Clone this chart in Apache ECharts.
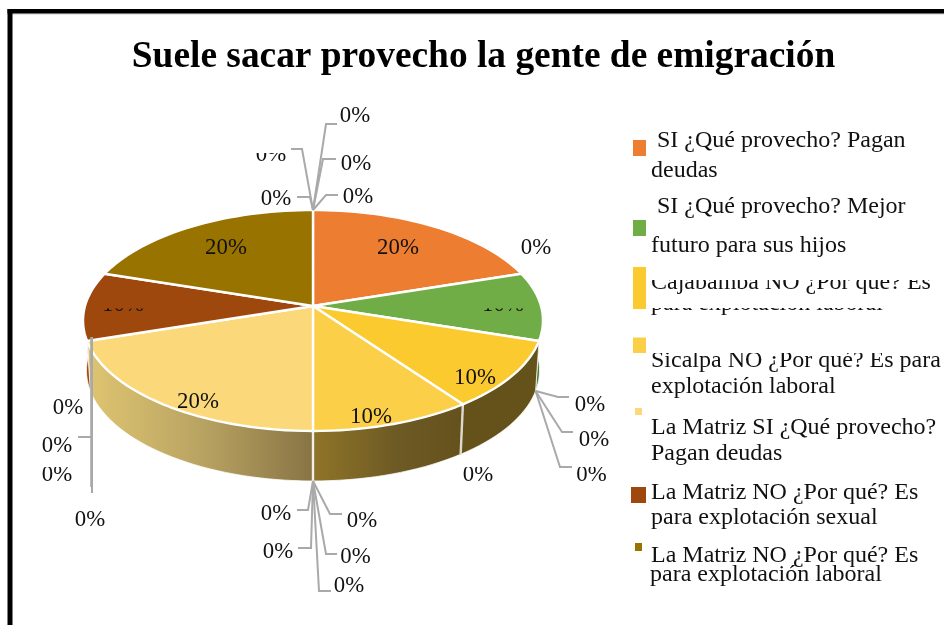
<!DOCTYPE html>
<html><head><meta charset="utf-8">
<script src="https://cdn.jsdelivr.net/npm/echarts@6/dist/echarts.min.js"></script>
<style>html,body{margin:0;padding:0;background:#fff}#c{width:944px;height:625px}</style>
</head><body><div id="c"></div>
<script>
const titleText = 'Suele sacar provecho la gente de emigración';
const categories = [
  'SI ¿Qué provecho? Pagan deudas',
  'SI ¿Qué provecho? Mejor futuro para sus hijos',
  'Cajabamba NO ¿Por qué? Es para explotación laboral',
  'Sicalpa NO ¿Por qué? Es para explotación laboral',
  'La Matriz SI ¿Qué provecho? Pagan deudas',
  'La Matriz NO ¿Por qué? Es para explotación sexual',
  'La Matriz NO ¿Por qué? Es para explotación laboral'
];
const shares = [20, 10, 10, 10, 20, 10, 20];
const zeroLabel = '0%';

// ---- styling / layout (kept apart from the data) ----
const topColors = ['#ED7D31', '#70AD47', '#FBCA2E', '#FBCF48', '#FBD97A', '#9E480E', '#997300'];
const FONT = '"Liberation Serif"';
const labelFont = '22.8px ' + FONT;
const legendFont = '24px ' + FONT;
const GREY = '#A9A9A9';
const P = {cx: 313, cy: 306, A: 228, B: 108.6, k: 0.131, wallCy: 356, wallScale: 0.985};

function project(deg, wall) {
  const r = deg * Math.PI / 180, u = Math.sin(r), v = Math.cos(r), d = 1 + P.k * v;
  const s = wall ? P.wallScale : 1;
  return [P.cx + s * P.A * u / d, (wall ? P.wallCy : P.cy) - P.B * v / d];
}
function arc(a0, a1, wall) {
  const n = Math.max(2, Math.ceil(Math.abs(a1 - a0) / 2)), pts = [];
  for (let i = 0; i <= n; i++) pts.push(project(a0 + (a1 - a0) * i / n, wall));
  return pts;
}
function sliceAngles(i) {
  const total = shares.reduce((a, b) => a + b, 0);
  let s = 0;
  for (let j = 0; j < i; j++) s += shares[j];
  return [s / total * 360, (s + shares[i]) / total * 360];
}
// fill of the side wall of each slice (only those facing the viewer)
const wallFills = {
  1: '#4F7B33',
  2: '#65511A',
  3: {type: 'linear', global: true, x: 313, y: 0, x2: 463, y2: 0,
      colorStops: [{offset: 0, color: '#8F7528'}, {offset: .55, color: '#6E5A24'}, {offset: 1, color: '#64511C'}]},
  4: {type: 'linear', global: true, x: 90, y: 0, x2: 313, y2: 0,
      colorStops: [{offset: 0, color: '#DEC471'}, {offset: .5, color: '#B9A362'}, {offset: 1, color: '#887444'}]},
  5: '#9E4A12'
};
const wallRange = {1: [90, 108], 2: [108, 144], 3: [144, 180], 4: [180, 252], 5: [252, 270]};

function text(str, x, y, font, align, clipTop) {
  const el = {type: 'text', silent: true,
    style: {text: str, x: x, y: y, fill: '#111', font: font, align: align, verticalAlign: 'middle'}};
  if (clipTop != null) el.clipPath = {type: 'rect', shape: {x: x - 400, y: clipTop, width: 800, height: 60}};
  return el;
}

// ---- slice labels ----
const sliceLabelPos = [
  [398, 248], [503, 305.5, 308.5], [475, 378], [371, 417], [198, 402], [123, 305.5, 308.5], [226, 248]
];

// ---- zero labels: [x, y, clipTop] ----
const zeroPos = [
  [355, 116], [356, 164], [358, 197], [276, 199], [271, 155, 153], [536, 248],
  [590, 405], [594, 440], [591.5, 475, 467], [478, 475, 467],
  [362, 521], [355.5, 557], [349, 586], [276, 514], [278, 552],
  [68, 408], [57, 446], [57, 475, 467], [90, 520]
];

// ---- leader lines: anchor slice-angle on top/bottom rim, then bend points ----
const leaders = [
  {deg: 0, wall: false, pts: [[326, 124], [337, 124]]},
  {deg: 0, wall: false, pts: [[323, 159], [336, 159]]},
  {deg: 0, wall: false, pts: [[326, 195], [338, 195]]},
  {deg: 0, wall: false, pts: [[302, 149], [291, 149]]},
  {deg: 0, wall: false, pts: [[310, 197], [297, 197]]},
  {deg: 108, wall: true, pts: [[558, 397], [569, 397]]},
  {deg: 108, wall: true, pts: [[562, 432], [573, 432]]},
  {deg: 108, wall: true, pts: [[560, 467], [572, 467]]},
  {deg: 180, wall: true, pts: [[330, 514], [342, 514]]},
  {deg: 180, wall: true, pts: [[326, 554], [337, 554]]},
  {deg: 180, wall: true, pts: [[319, 591], [331, 591]]},
  {deg: 180, wall: true, pts: [[308, 510], [297, 510]]},
  {deg: 180, wall: true, pts: [[311, 548], [298, 548]]},
  {start: [92, 337], pts: [[92, 437], [78, 437]]},
  {start: [92, 337], pts: [[92, 493]]},
  {start: [91.2, 337], pts: [[91.2, 487]]}
];

// ---- legend ----
const legendLines = [
  [' SI ¿Qué provecho? Pagan', 'deudas'],
  [' SI ¿Qué provecho? Mejor', 'futuro para sus hijos'],
  ['Cajabamba NO ¿Por qué? Es', 'para explotación laboral'],
  ['Sicalpa NO ¿Por qué? Es para', 'explotación laboral'],
  ['La Matriz SI ¿Qué provecho?', 'Pagan deudas'],
  ['La Matriz NO ¿Por qué? Es', 'para explotación sexual'],
  ['La Matriz NO ¿Por qué? Es', 'para explotación laboral']
];
const legendLayout = [
  {box: [633, 140, 13, 16], lines: [[651, 140.5], [651, 170.5]]},
  {box: [633, 220, 13, 16], lines: [[651, 206.5], [651, 245.5]]},
  {box: [633, 267, 13, 42], lines: [[651, 283, 280], [651, 304, 308]]},
  {box: [633, 337.5, 13, 15.5], lines: [[651, 361, 353], [651, 386.5]]},
  {box: [635, 408, 7, 7], lines: [[651, 428], [651, 454]]},
  {box: [631, 487, 15, 16], lines: [[651, 493], [651, 518]]},
  {box: [635, 543, 7, 8], lines: [[651, 556], [650, 575]]}
];

const wallData = Object.keys(wallRange).map(i => ({name: categories[i], value: [shares[i], +i]}));
const topData = categories.map((c, i) => ({name: c, value: [shares[i], i]}));

const chart = echarts.init(document.getElementById('c'), null, {renderer: 'canvas'});
chart.setOption({
  animation: false,
  backgroundColor: '#fff',
  title: {
    text: titleText, left: 478.5, top: 34, textAlign: 'center',
    textStyle: {fontFamily: FONT, fontWeight: 'bold', fontSize: 37.4, color: '#000'}
  },
  graphic: [
    {type: 'rect', shape: {x: 7.5, y: 13.5, width: 937, height: 1}, style: {fill: '#c8c8c8'}, silent: true},
    {type: 'rect', shape: {x: 7.5, y: 9, width: 5, height: 616}, style: {fill: '#000'}, silent: true},
    {type: 'rect', shape: {x: 7.5, y: 9, width: 937, height: 4.5}, style: {fill: '#000'}, silent: true}
  ],
  series: [
    { // side walls
      type: 'custom', coordinateSystem: 'none', silent: true, data: wallData, z: 1,
      renderItem(params, api) {
        const i = api.value(1), r = wallRange[i];
        const pts = arc(r[0], r[1], false).concat(arc(r[1], r[0], true));
        const kids = [{type: 'polygon', shape: {points: pts}, style: {fill: wallFills[i], stroke: 'rgba(255,255,255,.75)', lineWidth: 1}}];
        return {type: 'group', children: kids};
      }
    },
    { // dividers on the wall
      type: 'custom', coordinateSystem: 'none', silent: true, data: [{value: [144]}, {value: [180]}], z: 2,
      renderItem(params, api) {
        const d = api.value(0);
        const a = project(d, false), b = project(d, true);
        return {type: 'line', shape: {x1: a[0], y1: a[1], x2: b[0], y2: b[1]},
          style: {stroke: d === 180 ? '#f0efe8' : '#dcdad0', lineWidth: 2.4}};
      }
    },
    { // top face
      type: 'custom', coordinateSystem: 'none', silent: true, data: topData, z: 3,
      renderItem(params, api) {
        const i = api.value(1), ang = sliceAngles(i);
        const pts = [[P.cx, P.cy]].concat(arc(ang[0], ang[1], false));
        return {type: 'polygon', shape: {points: pts},
          style: {fill: topColors[i], stroke: '#fff', lineWidth: 2.4, lineJoin: 'round'}};
      }
    },
    { // slice percentage labels
      type: 'custom', coordinateSystem: 'none', silent: true, data: topData, z: 4,
      renderItem(params, api) {
        const i = api.value(1), p = sliceLabelPos[i];
        return text(api.value(0) + '%', p[0], p[1], labelFont, 'center', p[2]);
      }
    },
    { // leader lines
      type: 'custom', coordinateSystem: 'none', silent: true, data: leaders.map((l, i) => ({value: [i]})), z: 5,
      renderItem(params, api) {
        const l = leaders[api.value(0)];
        const s = l.start || project(l.deg, l.wall);
        return {type: 'polyline', shape: {points: [s].concat(l.pts)},
          style: {stroke: GREY, lineWidth: 2, fill: null}};
      }
    },
    { // zero-share labels
      type: 'custom', coordinateSystem: 'none', silent: true, data: zeroPos.map((p, i) => ({value: [i]})), z: 6,
      renderItem(params, api) {
        const p = zeroPos[api.value(0)];
        return text(zeroLabel, p[0], p[1], labelFont, 'center', p[2]);
      }
    },
    { // legend
      type: 'custom', coordinateSystem: 'none', silent: true, data: topData, z: 7,
      renderItem(params, api) {
        const i = api.value(1), L = legendLayout[i];
        const kids = [{type: 'rect', shape: {x: L.box[0], y: L.box[1], width: L.box[2], height: L.box[3]},
          style: {fill: topColors[i]}}];
        L.lines.forEach((ln, j) => kids.push(text(legendLines[i][j], ln[0], ln[1], legendFont, 'left', ln[2])));
        return {type: 'group', children: kids};
      }
    }
  ]
});
</script></body></html>
